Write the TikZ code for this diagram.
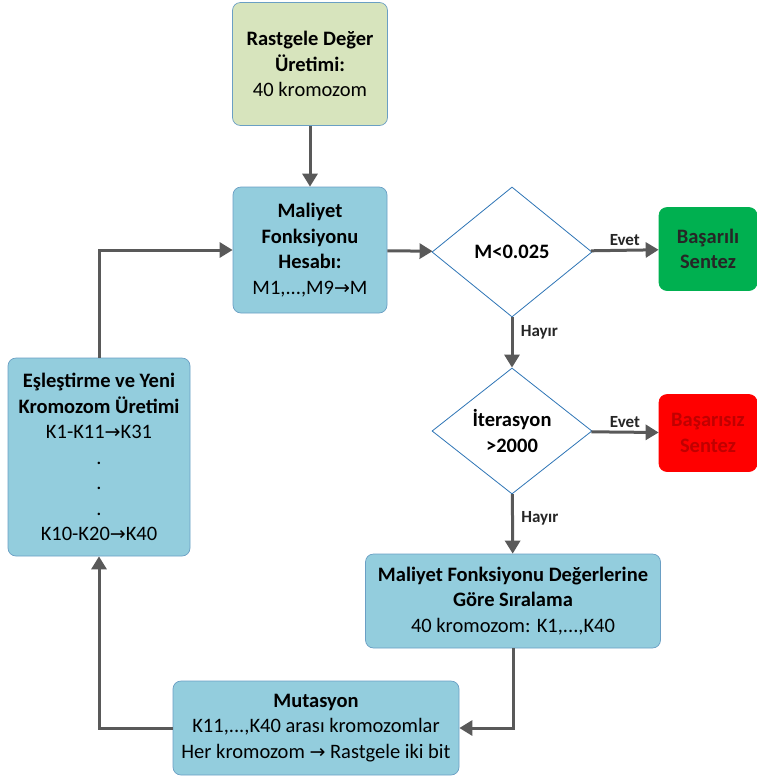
\documentclass[tikz,border=0pt]{standalone}
\usepackage{fontspec}
\setmainfont{Carlito}
\newfontfamily\okfont{DejaVu Sans}
\usetikzlibrary{shapes.geometric,arrows.meta}
\definecolor{yesilkutu}{HTML}{D7E4BD}
\definecolor{mavikutu}{HTML}{93CDDD}
\definecolor{kenar}{HTML}{6A9FC4}
\definecolor{elmaskenar}{HTML}{2E75B6}
\definecolor{okgri}{HTML}{595959}
\definecolor{basari}{HTML}{00B050}
\definecolor{hata}{HTML}{FF0000}
\definecolor{hatayazi}{HTML}{C00000}
\newcommand{\sagok}{{\okfont\fontsize{19}{19}\selectfont →}}

\begin{document}
\begin{tikzpicture}[x=1pt, y=-1pt,
        kutu/.style={draw=kenar, line width=0.7pt, rounded corners=8pt, fill=mavikutu,
            align=center, inner sep=2pt, font=\fontsize{20.5}{25.5}\selectfont},
        karar/.style={diamond, draw=elmaskenar, line width=0.8pt, fill=white, inner sep=0pt,
            align=center, font=\fontsize{20.5}{25.5}\selectfont\bfseries},
        ok/.style={draw=okgri, line width=3pt, -{Triangle[length=13pt,width=15pt]}},
        etiket/.style={font=\fontsize{17}{19}\selectfont\bfseries, text=black!85}]
        \useasboundingbox (0,0) rectangle (757,780);
        \node[kutu, fill=yesilkutu, minimum width=155pt, minimum height=123pt] (rastgele) at (310,64)
            {\textbf{Rastgele Değer}\\\textbf{Üretimi:}\\40 kromozom};
        \node[kutu, minimum width=154pt, minimum height=126pt] (maliyet) at (310,250)
            {\textbf{Maliyet}\\\textbf{Fonksiyonu}\\\textbf{Hesabı:}\\M1,...,M9\sagok M};
        \node[karar, minimum width=160pt, minimum height=130pt] (kosul1) at (512,252) {M<0.025};
        \node[kutu, fill=basari, draw=basari, minimum width=98pt, minimum height=83pt,
            font=\fontsize{20.5}{25.5}\selectfont\bfseries, text=black!85] (basarili) at (708,249)
            {Başarılı\\Sentez};
        \node[karar, minimum width=160pt, minimum height=126pt] (kosul2) at (512,431)
            {İterasyon\\>2000};
        \node[kutu, fill=hata, draw=hata, minimum width=98pt, minimum height=77pt,
            font=\fontsize{20.5}{25.5}\selectfont\bfseries, text=hatayazi] (basarisiz) at (708,433)
            {Başarısız\\Sentez};
        \node[kutu, minimum width=295pt, minimum height=94pt] (siralama) at (513,601)
            {\textbf{Maliyet Fonksiyonu Değerlerine}\\\textbf{Göre Sıralama}\\40 kromozom: K1,...,K40};
        \node[kutu, minimum width=286pt, minimum height=94pt] (mutasyon) at (316,728)
            {\textbf{Mutasyon}\\K11,...,K40 arası kromozomlar\\Her kromozom \sagok{} Rastgele iki bit};
        \node[kutu, minimum width=182pt, minimum height=198pt] (eslestirme) at (99,457)
            {\textbf{Eşleştirme ve Yeni}\\\textbf{Kromozom Üretimi}\\K1-K11\sagok K31\\.\\.\\.\\K10-K20\sagok K40};
        \draw[ok] (rastgele) -- (maliyet);
        \draw[ok] (maliyet) -- (kosul1);
        \draw[ok] (kosul1) -- node[etiket, above] {Evet} (basarili);
        \draw[ok] (kosul1) -- node[etiket, right, xshift=4pt, pos=0.3] {Hayır} (kosul2);
        \draw[ok] (kosul2) -- node[etiket, above] {Evet} (basarisiz);
        \draw[ok] (kosul2) -- node[etiket, right, xshift=4pt, pos=0.4] {Hayır} (siralama);
        \draw[ok] (siralama.south) |- (mutasyon.east);
        \draw[ok] (mutasyon.west) -| (eslestirme.south);
        \draw[ok] (eslestirme.north) |- (maliyet.west);
    \end{tikzpicture}
\end{document}
